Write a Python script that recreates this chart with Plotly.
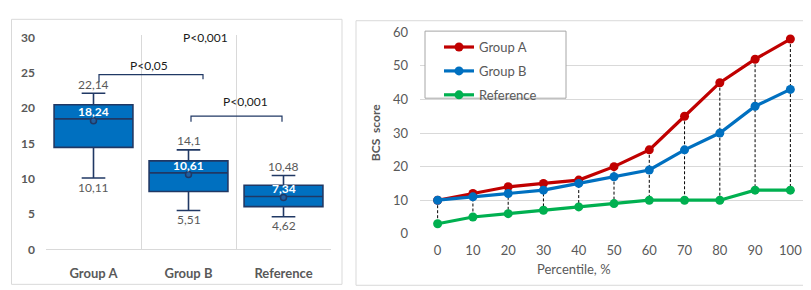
import plotly.graph_objects as go

W, H = 811, 290

# ---------------- Left chart data (box plot) ----------------
groups = ["Group A", "Group B", "Reference"]
q1_vals = [14.46, 8.2, 6.06]
median_vals = [18.5, 10.84, 7.5]
q3_vals = [20.5, 12.54, 9.1]
lower_vals = [10.11, 5.51, 4.62]
upper_vals = [22.14, 14.1, 10.48]
mean_vals = [18.24, 10.61, 7.34]

# ---------------- Right chart data (lines) ----------------
percentiles = ["0", "10", "20", "30", "40", "50", "60", "70", "80", "90", "100"]
group_a = [10, 12, 14, 15, 16, 20, 25, 35, 45, 52, 58]
group_b = [10, 11, 12, 13, 15, 17, 19, 25, 30, 38, 43]
reference = [3, 5, 6, 7, 8, 9, 10, 10, 10, 13, 13]

FONT = "Lato"
GRAY = "#595959"
GRID = "#D9D9D9"
NAVY = "#203864"
BLUE = "#0070C0"
RED = "#C00000"
GREEN = "#00B050"


def px(x):
    return x / W


def py(y):
    return 1 - y / H


def fmt(v):
    return str(v).replace(".", ",")


fig = go.Figure()

# Box plot
fig.add_trace(go.Box(
    x=groups, q1=q1_vals, median=median_vals, q3=q3_vals,
    lowerfence=lower_vals, upperfence=upper_vals,
    width=0.83, whiskerwidth=0.3, boxpoints=False,
    fillcolor=BLUE, line=dict(color=NAVY, width=1.6),
    xaxis="x", yaxis="y", showlegend=False, hoverinfo="skip",
))
fig.add_trace(go.Scatter(
    x=groups, y=mean_vals, mode="markers",
    marker=dict(size=6, color="#1F5FA0", line=dict(color=NAVY, width=1.5)),
    xaxis="x", yaxis="y", showlegend=False, hoverinfo="skip",
))

# Drop (high-low) lines
hx, hy = [], []
for c, a, r in zip(percentiles, group_a, reference):
    hx += [c, c, None]
    hy += [a, r, None]
fig.add_trace(go.Scatter(
    x=hx, y=hy, mode="lines", line=dict(color="#000000", width=1, dash="3px,2px"),
    xaxis="x2", yaxis="y2", showlegend=False, hoverinfo="skip",
))

for name, vals, col in [("Group A", group_a, RED), ("Group B", group_b, BLUE), ("Reference", reference, GREEN)]:
    fig.add_trace(go.Scatter(
        x=percentiles, y=vals, name=name, mode="lines+markers",
        line=dict(color=col, width=3.2), marker=dict(size=9, color=col),
        xaxis="x2", yaxis="y2", legendgroup=name,
    ))

annotations = []
# Box value labels
for g, up, mn, lo in zip(groups, upper_vals, mean_vals, lower_vals):
    annotations.append(dict(x=g, y=up, xref="x", yref="y", text=fmt(up), showarrow=False,
                            xanchor="center", yanchor="middle",
                            yshift=9, font=dict(family=FONT, size=12, color=GRAY)))
    annotations.append(dict(x=g, y=mn, xref="x", yref="y", text=fmt(mn), showarrow=False,
                            xanchor="center", yanchor="middle",
                            yshift=9, font=dict(family=FONT, size=12, color="#FFFFFF", weight="bold")))
    annotations.append(dict(x=g, y=lo, xref="x", yref="y", text=fmt(lo), showarrow=False,
                            xanchor="center", yanchor="middle",
                            yshift=-9, font=dict(family=FONT, size=12, color=GRAY)))

# p-value labels
for text, x, y in [("P<0,05", 140.5, 52), ("P<0,001", 197.5, 23), ("P<0,001", 237.5, 90)]:
    annotations.append(dict(x=px(x), y=py(y), xref="paper", yref="paper", text=text, showarrow=False,
                            xanchor="center", yanchor="middle",
                            font=dict(family=FONT, size=12, color="#1A1A1A")))

# axis titles right chart
annotations.append(dict(x=px(566), y=py(268), xref="paper", yref="paper", text="Percentile, %",
                        showarrow=False, xanchor="center", yanchor="middle",
                        font=dict(family=FONT, size=13, color=GRAY)))
annotations.append(dict(x=px(367), y=py(124), xref="paper", yref="paper", text="BCS  score",
                        showarrow=False, textangle=-90, xanchor="center", yanchor="middle",
                        font=dict(family=FONT, size=12, color=GRAY, weight="bold")))

shapes = []
# panel frames
shapes.append(dict(type="rect", xref="paper", yref="paper", x0=px(3.5), x1=px(334), y0=py(284), y1=py(3.5),
                   line=dict(color=GRID, width=1), layer="below"))
shapes.append(dict(type="rect", xref="paper", yref="paper", x0=px(348), x1=px(808), y0=py(285), y1=py(5),
                   line=dict(color=GRID, width=1), layer="below"))
# significance brackets
for (xl, xr, ytop, yl, yr) in [(91, 195, 62, 70, 67), (183, 274, 106, 112, 112)]:
    shapes.append(dict(type="path", xref="paper", yref="paper",
                       path=f"M{px(xl)},{py(yl)} L{px(xl)},{py(ytop)} L{px(xr)},{py(ytop)} L{px(xr)},{py(yr)}",
                       line=dict(color=NAVY, width=1.2)))
# legend box
shapes.append(dict(type="rect", xref="paper", yref="paper", x0=px(417), x1=px(558), y0=py(87), y1=py(16),
                   fillcolor="#FFFFFF", line=dict(color="#A6A6A6", width=1), layer="above"))

fig.update_layout(
    width=W, height=H, margin=dict(l=0, r=0, t=0, b=0),
    paper_bgcolor="white", plot_bgcolor="white",
    font=dict(family=FONT, color=GRAY),
    showlegend=True,
    legend=dict(x=px(431), y=py(17), xanchor="left", yanchor="top",
                bgcolor="rgba(0,0,0,0)", borderwidth=0, tracegroupgap=4,
                font=dict(family=FONT, size=13, color=GRAY)),
    annotations=annotations, shapes=shapes,
    xaxis=dict(domain=[px(38), px(323)], type="category", categoryorder="array", categoryarray=groups,
               range=[-0.5, 2.5], tickson="boundaries", showgrid=True, gridcolor=GRID, gridwidth=1,
               showline=True, linecolor=GRID, ticks="", ticklabelstandoff=12,
               tickfont=dict(family=FONT, size=13, color=GRAY, weight="bold"), fixedrange=True),
    yaxis=dict(domain=[py(247), py(20)], range=[0, 30 * (247 - 20) / (247 - 23)], dtick=5, tick0=0,
               showgrid=False, zeroline=False, showline=False, ticks="", ticklabelstandoff=10,
               tickfont=dict(family=FONT, size=12, color=GRAY, weight="bold"), fixedrange=True),
    xaxis2=dict(domain=[px(412), px(800)], type="category", range=[-0.5, 10.5], showgrid=False,
                showline=False, zeroline=False, ticks="", ticklabelstandoff=7,
                tickfont=dict(family=FONT, size=13, color=GRAY), anchor="y2", fixedrange=True),
    yaxis2=dict(domain=[py(230.5), py(17.3)], range=[0, 60], dtick=10, showgrid=True, gridcolor=GRID,
                gridwidth=1, zeroline=False, showline=False, ticks="", ticklabelstandoff=11,
                tickfont=dict(family=FONT, size=13, color=GRAY), anchor="x2", fixedrange=True),
)

fig.write_html("out.html")
